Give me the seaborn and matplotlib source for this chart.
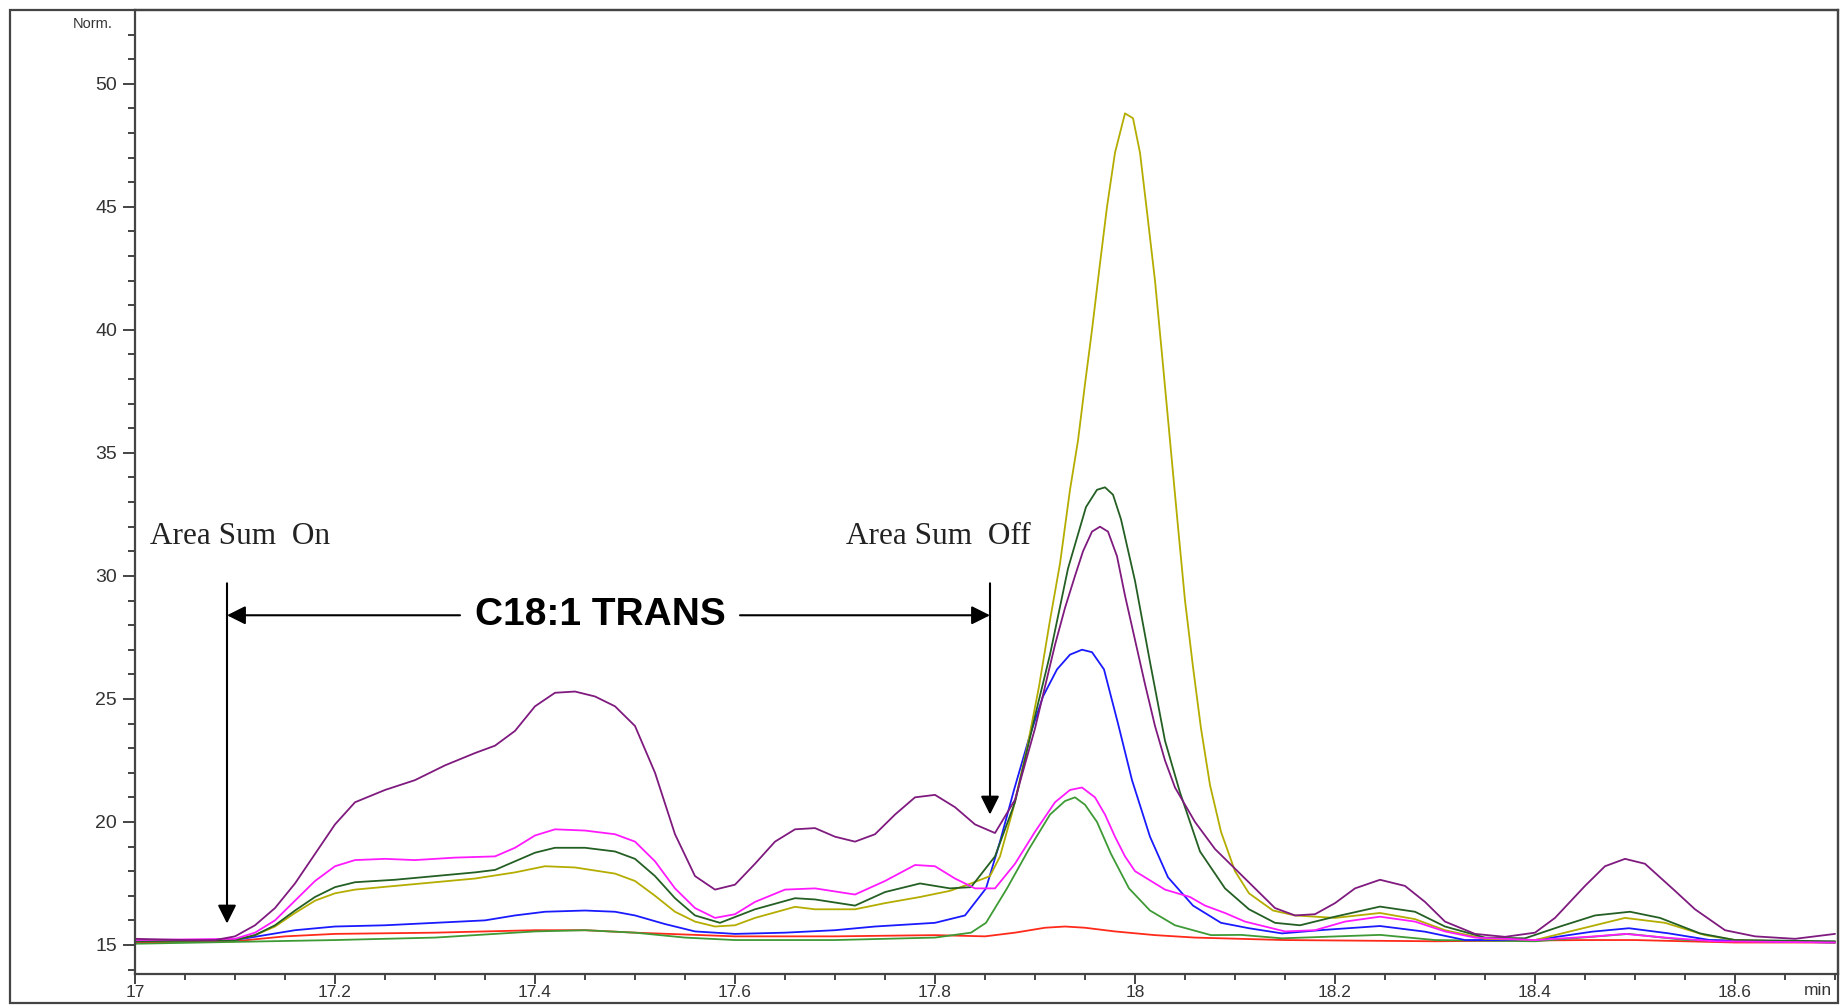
import matplotlib
matplotlib.use("Agg")
import matplotlib.pyplot as plt
from matplotlib.patches import Rectangle
from matplotlib.ticker import FixedLocator, MultipleLocator
import pandas as pd
import seaborn as sns

## Data (time in min, signal in Norm.)
purple_t = [17.00, 17.05, 17.08, 17.10, 17.12, 17.14, 17.16, 17.18, 17.20, 17.22, 17.25, 17.28,
            17.31, 17.34, 17.36, 17.38, 17.40, 17.42, 17.44, 17.46, 17.48, 17.50, 17.52, 17.54,
            17.56, 17.58, 17.60, 17.62, 17.64, 17.66, 17.68, 17.70, 17.72, 17.74, 17.76, 17.78,
            17.80, 17.82, 17.84, 17.86, 17.88, 17.90, 17.92, 17.93, 17.94, 17.948, 17.957, 17.965,
            17.973, 17.982, 17.99, 18.00, 18.01, 18.02, 18.03, 18.04, 18.05, 18.06, 18.08, 18.10,
            18.12, 18.14, 18.16, 18.18, 18.20, 18.22, 18.245, 18.27, 18.29, 18.31, 18.34, 18.37,
            18.40, 18.42, 18.45, 18.47, 18.49, 18.51, 18.54, 18.56, 18.59, 18.62, 18.66, 18.70]
purple_y = [15.25, 15.2, 15.2, 15.35, 15.8, 16.5, 17.5, 18.7, 19.9, 20.8, 21.3, 21.7,
            22.3, 22.8, 23.1, 23.7, 24.7, 25.25, 25.3, 25.1, 24.7, 23.9, 22.0, 19.5,
            17.8, 17.25, 17.45, 18.3, 19.2, 19.7, 19.75, 19.4, 19.2, 19.5, 20.3, 21.0,
            21.1, 20.6, 19.9, 19.55, 20.9, 23.8, 27.2, 28.7, 30.0, 31.0, 31.8, 32.0,
            31.8, 30.8, 29.2, 27.4, 25.6, 23.9, 22.5, 21.4, 20.7, 20.0, 18.9, 18.1,
            17.3, 16.5, 16.2, 16.25, 16.7, 17.3, 17.65, 17.4, 16.75, 15.95, 15.45, 15.33,
            15.5, 16.1, 17.4, 18.2, 18.5, 18.3, 17.2, 16.45, 15.6, 15.35, 15.25, 15.45]

magenta_t = [17.00, 17.10, 17.12, 17.14, 17.16, 17.18, 17.20, 17.22, 17.25, 17.28, 17.32, 17.36,
             17.38, 17.40, 17.42, 17.45, 17.48, 17.50, 17.52, 17.54, 17.56, 17.58, 17.60, 17.62,
             17.65, 17.68, 17.72, 17.75, 17.78, 17.80, 17.82, 17.84, 17.86, 17.88, 17.90, 17.92,
             17.935, 17.947, 17.96, 17.97, 17.98, 17.99, 18.00, 18.03, 18.055, 18.07, 18.09, 18.11,
             18.15, 18.18, 18.21, 18.245, 18.28, 18.31, 18.34, 18.40, 18.46, 18.49, 18.53, 18.58,
             18.70]
magenta_y = [15.2, 15.25, 15.5, 16.0, 16.8, 17.6, 18.2, 18.45, 18.5, 18.45, 18.55, 18.6,
             18.95, 19.45, 19.7, 19.65, 19.5, 19.2, 18.4, 17.3, 16.5, 16.1, 16.25, 16.75,
             17.25, 17.3, 17.05, 17.6, 18.25, 18.2, 17.7, 17.3, 17.3, 18.3, 19.6, 20.8,
             21.3, 21.4, 21.0, 20.3, 19.4, 18.6, 18.0, 17.25, 16.95, 16.6, 16.3, 15.95,
             15.55, 15.6, 15.95, 16.15, 15.95, 15.55, 15.3, 15.2, 15.35, 15.45, 15.3, 15.15,
             15.1]

dkgreen_t = [17.00, 17.10, 17.12, 17.14, 17.16, 17.18, 17.20, 17.22, 17.26, 17.30, 17.34, 17.36,
             17.38, 17.40, 17.42, 17.45, 17.48, 17.50, 17.52, 17.54, 17.56, 17.585, 17.62, 17.66,
             17.68, 17.72, 17.75, 17.785, 17.815, 17.836, 17.86, 17.88, 17.90, 17.915, 17.933, 17.951,
             17.962, 17.97, 17.978, 17.986, 18.00, 18.015, 18.03, 18.045, 18.065, 18.09, 18.114, 18.14,
             18.165, 18.20, 18.245, 18.28, 18.31, 18.35, 18.39, 18.425, 18.46, 18.495, 18.525, 18.565,
             18.60, 18.70]
dkgreen_y = [15.15, 15.2, 15.4, 15.8, 16.4, 16.95, 17.35, 17.55, 17.65, 17.8, 17.95, 18.05,
             18.4, 18.75, 18.95, 18.95, 18.8, 18.5, 17.8, 16.9, 16.2, 15.9, 16.45, 16.9,
             16.85, 16.6, 17.15, 17.5, 17.3, 17.35, 18.6, 20.8, 24.3, 26.8, 30.3, 32.8,
             33.5, 33.6, 33.3, 32.3, 29.8, 26.5, 23.3, 21.2, 18.8, 17.3, 16.45, 15.9,
             15.8, 16.15, 16.56, 16.35, 15.75, 15.3, 15.27, 15.75, 16.2, 16.35, 16.1, 15.47,
             15.2, 15.15]

yellow_t = [17.00, 17.10, 17.12, 17.14, 17.16, 17.18, 17.20, 17.22, 17.26, 17.30, 17.34, 17.38,
            17.41, 17.44, 17.48, 17.50, 17.52, 17.54, 17.56, 17.58, 17.60, 17.62, 17.66, 17.68,
            17.72, 17.75, 17.785, 17.815, 17.836, 17.855, 17.865, 17.878, 17.892, 17.904, 17.915, 17.925,
            17.935, 17.943, 17.95, 17.957, 17.965, 17.972, 17.98, 17.99, 17.998, 18.005, 18.012, 18.02,
            18.027, 18.035, 18.043, 18.05, 18.058, 18.066, 18.075, 18.086, 18.10, 18.114, 18.138, 18.16,
            18.20, 18.245, 18.28, 18.31, 18.35, 18.40, 18.44, 18.49, 18.53, 18.57, 18.60, 18.70]
yellow_y = [15.15, 15.2, 15.4, 15.75, 16.3, 16.8, 17.1, 17.25, 17.4, 17.55, 17.7, 17.95,
            18.2, 18.15, 17.9, 17.6, 17.0, 16.35, 15.95, 15.75, 15.8, 16.1, 16.55, 16.45,
            16.45, 16.7, 16.95, 17.2, 17.5, 17.8, 18.6, 20.5, 23.0, 25.5, 28.2, 30.5,
            33.5, 35.5, 37.8, 40.0, 42.7, 45.0, 47.2, 48.8, 48.6, 47.2, 44.8, 42.0,
            39.0, 35.5, 32.0, 29.0, 26.3, 23.8, 21.5, 19.6, 18.0, 17.1, 16.4, 16.2,
            16.1, 16.3, 16.05, 15.6, 15.25, 15.2, 15.6, 16.1, 15.9, 15.4, 15.2, 15.1]

blue_t = [17.00, 17.10, 17.13, 17.16, 17.20, 17.25, 17.30, 17.35, 17.38, 17.41, 17.45, 17.48,
          17.50, 17.53, 17.56, 17.60, 17.65, 17.70, 17.74, 17.78, 17.80, 17.83, 17.851, 17.865,
          17.879, 17.894, 17.908, 17.922, 17.935, 17.947, 17.957, 17.969, 17.983, 17.997, 18.015, 18.033,
          18.058, 18.086, 18.114, 18.147, 18.188, 18.245, 18.29, 18.33, 18.40, 18.457, 18.494, 18.534,
          18.575, 18.70]
blue_y = [15.15, 15.2, 15.4, 15.6, 15.75, 15.8, 15.9, 16.0, 16.2, 16.35, 16.4, 16.35,
          16.2, 15.85, 15.55, 15.45, 15.5, 15.6, 15.75, 15.85, 15.9, 16.2, 17.3, 19.2,
          21.3, 23.4, 25.1, 26.2, 26.8, 27.0, 26.9, 26.2, 24.0, 21.7, 19.4, 17.75,
          16.6, 15.9, 15.68, 15.47, 15.61, 15.77, 15.54, 15.2, 15.2, 15.54, 15.68, 15.47,
          15.2, 15.1]

green_t = [17.00, 17.20, 17.30, 17.40, 17.45, 17.50, 17.55, 17.60, 17.70, 17.80, 17.836, 17.851,
           17.872, 17.894, 17.915, 17.93, 17.94, 17.95, 17.962, 17.976, 17.994, 18.015, 18.04, 18.076,
           18.106, 18.147, 18.245, 18.30, 18.40, 18.494, 18.55, 18.70]
green_y = [15.05, 15.2, 15.3, 15.55, 15.6, 15.5, 15.3, 15.2, 15.2, 15.3, 15.5, 15.9,
           17.3, 18.9, 20.3, 20.85, 21.0, 20.7, 20.0, 18.7, 17.3, 16.4, 15.8, 15.4,
           15.41, 15.27, 15.41, 15.2, 15.15, 15.45, 15.2, 15.1]

red_t = [17.00, 17.10, 17.15, 17.20, 17.30, 17.40, 17.45, 17.50, 17.60, 17.70, 17.80, 17.85,
         17.88, 17.91, 17.93, 17.95, 17.98, 18.02, 18.06, 18.15, 18.30, 18.45, 18.50, 18.60,
         18.70]
red_y = [15.1, 15.15, 15.35, 15.45, 15.5, 15.6, 15.6, 15.5, 15.35, 15.35, 15.4, 15.35,
         15.5, 15.7, 15.75, 15.7, 15.55, 15.4, 15.3, 15.2, 15.15, 15.2, 15.2, 15.1,
         15.1]

trace_names = ["red", "green", "blue", "yellow", "dkgreen", "magenta", "purple"]
trace_colors = ["#ff2a1a", "#3e9a35", "#1a1aff", "#b4ad00", "#245f24", "#ff1aff", "#7f1a7f"]

xtick_vals = [17.0, 17.2, 17.4, 17.6, 17.8, 18.0, 18.2, 18.4, 18.6]
xtick_labels = ["17", "17.2", "17.4", "17.6", "17.8", "18", "18.2", "18.4", "18.6"]
ytick_vals = [15, 20, 25, 30, 35, 40, 45, 50]

series = {
    "red": (red_t, red_y), "green": (green_t, green_y), "blue": (blue_t, blue_y),
    "yellow": (yellow_t, yellow_y), "dkgreen": (dkgreen_t, dkgreen_y),
    "magenta": (magenta_t, magenta_y), "purple": (purple_t, purple_y),
}
frames = []
for name in trace_names:
    t, y = series[name]
    frames.append(pd.DataFrame({"time": t, "signal": y, "trace": name}))
df = pd.concat(frames, ignore_index=True)

sns.set_style("white")
plt.rcParams["font.family"] = ["Liberation Sans", "DejaVu Sans"]

fig = plt.figure(figsize=(18.41, 10.05), dpi=100)
ax = fig.add_axes([135 / 1841, 1 - 974 / 1005, (1838 - 135) / 1841, (974 - 10) / 1005])

sns.lineplot(data=df, x="time", y="signal", hue="trace", hue_order=trace_names,
             palette=dict(zip(trace_names, trace_colors)), estimator=None, legend=False,
             linewidth=1.3, ax=ax)

ax.set_xlim(17.0, 18.703)
ax.set_ylim(13.82, 53.0)
ax.set_xlabel("")
ax.set_ylabel("")

ax.xaxis.set_major_locator(FixedLocator(xtick_vals))
ax.set_xticklabels(xtick_labels)
ax.xaxis.set_minor_locator(MultipleLocator(0.05))
ax.yaxis.set_major_locator(FixedLocator(ytick_vals))
ax.set_yticklabels([str(v) for v in ytick_vals])
ax.yaxis.set_minor_locator(MultipleLocator(1))
ax.tick_params(which="both", direction="out", colors="#444444", width=1.4,
               labelcolor="#333333", bottom=True, left=True)
ax.tick_params(axis="y", which="major", length=9, pad=4, labelsize=14)
ax.tick_params(axis="y", which="minor", length=5)
ax.tick_params(axis="x", which="major", length=7, pad=1, labelsize=12.5)
ax.tick_params(axis="x", which="minor", length=4)
for s in ax.spines.values():
    s.set_color("#444444")
    s.set_linewidth(1.6)

# outer frame of the whole picture
fig.patches.append(Rectangle((10 / 1841, 2 / 1005), (1838 - 10) / 1841, (1003 - 10) / 1005,
                             transform=fig.transFigure, fill=False, edgecolor="#444444",
                             linewidth=1.6))

fig.text(113 / 1841, 1 - 24 / 1005, "Norm.", ha="right", va="center", fontsize=10.5,
         color="#333333")
ax.text(18.683, 13.82 - 0.35, "min", ha="center", va="top", fontsize=12.5, color="#333333")

# area sum markers
arrow = dict(arrowstyle="-|>", color="black", lw=1.5, mutation_scale=28,
             shrinkA=0, shrinkB=0)
ax.annotate("", xy=(17.092, 15.87), xytext=(17.092, 29.7), arrowprops=arrow)
ax.annotate("", xy=(17.855, 20.3), xytext=(17.855, 29.7), arrowprops=arrow)
ax.annotate("", xy=(17.092, 28.4), xytext=(17.325, 28.4), arrowprops=arrow)
ax.annotate("", xy=(17.855, 28.4), xytext=(17.605, 28.4), arrowprops=arrow)
ax.text(17.465, 28.4, "C18:1 TRANS", ha="center", va="center", fontsize=28,
        fontweight="bold", color="black")
ax.text(17.015, 31.6, "Area Sum  On", ha="left", va="center", fontsize=22.5,
        family=["Liberation Serif", "DejaVu Serif"], color="#222222")
ax.text(17.896, 31.6, "Area Sum  Off", ha="right", va="center", fontsize=22.5,
        family=["Liberation Serif", "DejaVu Serif"], color="#222222")

fig.savefig("out.png", dpi=100)
